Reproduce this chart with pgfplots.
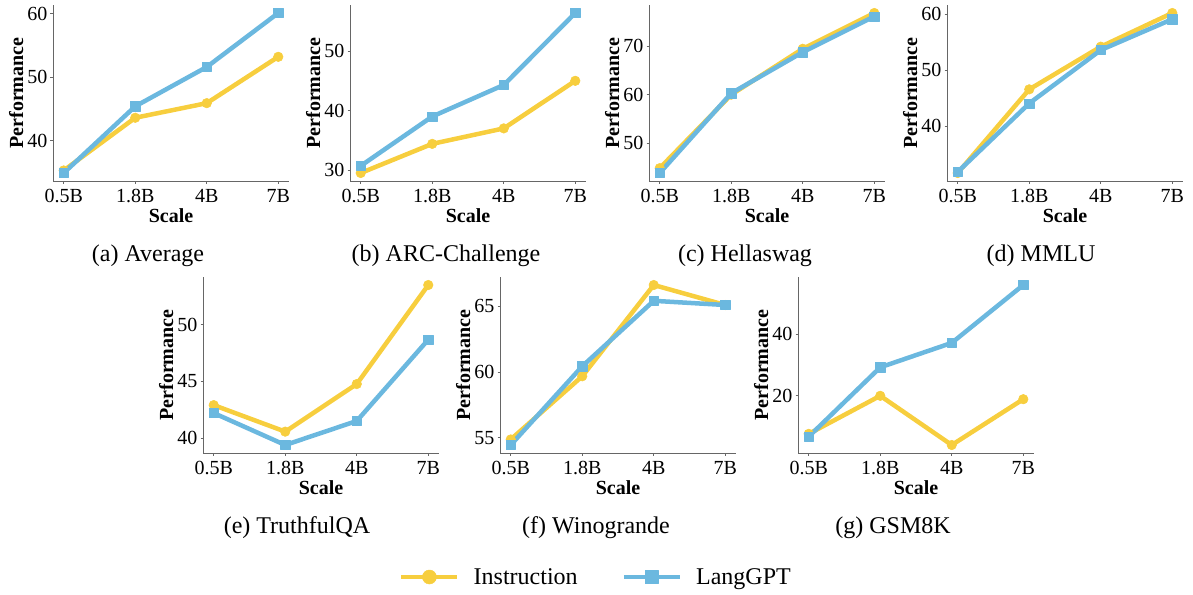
\documentclass[border=0pt]{standalone}
\usepackage{fontspec}
\setmainfont{Liberation Serif}
\usepackage{pgfplots}
\pgfplotsset{compat=1.18}
\definecolor{yel}{HTML}{F7CE3E}
\definecolor{blu}{HTML}{6BB8DF}
\definecolor{axgray}{HTML}{666666}

\pgfplotsset{
  sub/.style={
    scale only axis, width=236pt, height=176pt,
    axis x line*=bottom, axis y line*=left,
    axis line style={draw=axgray, line width=0.8pt, -},
    tick align=outside, major tick length=2.5pt,
    tick style={draw=axgray, line width=0.8pt},
    xmin=-0.15, xmax=3.15, enlarge y limits=0.05,
    xtick={0,1,2,3}, xticklabels={0.5B,1.8B,4B,7B},
    /pgf/number format/assume math mode=true,
    ticklabel style={font=\fontsize{20}{24}\selectfont},
    xticklabel style={anchor=base, yshift=-19pt},
    yticklabel style={anchor=east, inner xsep=0pt, xshift=-3pt},
    every axis x label/.style={at={(axis description cs:0.5,-0.233)}, anchor=base,
      font=\fontsize{20}{24}\selectfont\bfseries},
    every axis y label/.style={at={(axis description cs:-0.127,0.5)}, rotate=90, anchor=base,
      font=\fontsize{20}{24}\selectfont\bfseries},
    xlabel=Scale, ylabel=Performance,
    clip=false,
  },
  ins/.style={color=yel, line width=4.5pt, line join=round, mark=*, mark size=4.8pt,
    mark options={line width=0.5pt}},
  lang/.style={color=blu, line width=4.5pt, line join=round, mark=square*, mark size=4.6pt,
    mark options={line width=0.5pt}},
}

\begin{document}
\begin{tikzpicture}
\useasboundingbox (0pt,0pt) rectangle (1193pt,-594pt);

% (a) Average
\begin{axis}[sub, at={(53pt,-181pt)}, anchor=south west, ytick={40,50,60}]
\addplot[ins] coordinates {(0,35.3) (1,43.6) (2,45.9) (3,53.2)};
\addplot[lang] coordinates {(0,34.9) (1,45.4) (2,51.6) (3,60.1)};
\end{axis}

% (b) ARC-Challenge
\begin{axis}[sub, at={(350pt,-181pt)}, anchor=south west, ytick={30,40,50}]
\addplot[ins] coordinates {(0,29.5) (1,34.4) (2,37.0) (3,45.0)};
\addplot[lang] coordinates {(0,30.7) (1,39.0) (2,44.3) (3,56.4)};
\end{axis}

% (c) Hellaswag
\begin{axis}[sub, at={(649pt,-181pt)}, anchor=south west, ytick={50,60,70}]
\addplot[ins] coordinates {(0,44.8) (1,60.0) (2,69.5) (3,76.9)};
\addplot[lang] coordinates {(0,43.8) (1,60.3) (2,68.8) (3,76.2)};
\end{axis}

% (d) MMLU
\begin{axis}[sub, at={(947pt,-181pt)}, anchor=south west, ytick={40,50,60}]
\addplot[ins] coordinates {(0,31.7) (1,46.6) (2,54.2) (3,60.2)};
\addplot[lang] coordinates {(0,31.9) (1,44.1) (2,53.6) (3,59.1)};
\end{axis}

% (e) TruthfulQA
\begin{axis}[sub, at={(203pt,-453pt)}, anchor=south west, ytick={40,45,50}]
\addplot[ins] coordinates {(0,42.9) (1,40.56) (2,44.76) (3,53.5)};
\addplot[lang] coordinates {(0,42.2) (1,39.38) (2,41.5) (3,48.68)};
\end{axis}

% (f) Winogrande
\begin{axis}[sub, at={(500pt,-453pt)}, anchor=south west, ytick={55,60,65}]
\addplot[ins] coordinates {(0,54.87) (1,59.67) (2,66.6) (3,65.08)};
\addplot[lang] coordinates {(0,54.45) (1,60.43) (2,65.4) (3,65.08)};
\end{axis}

% (g) GSM8K
\begin{axis}[sub, at={(798pt,-453pt)}, anchor=south west, ytick={20,40}]
\addplot[ins] coordinates {(0,7.7) (1,20.0) (2,4.1) (3,18.9)};
\addplot[lang] coordinates {(0,6.8) (1,29.2) (2,37.1) (3,55.8)};
\end{axis}

% legend
\begin{axis}[hide axis, scale only axis, width=10pt, height=10pt,
  at={(596pt,-577pt)}, anchor=center,
  xmin=0, xmax=1, ymin=0, ymax=1,
  legend columns=2,
  legend image code/.code={\draw[mark repeat=2,mark phase=2,#1] plot coordinates {(0pt,0pt) (28pt,0pt) (56pt,0pt)};},
  legend style={at={(0.5,0.5)}, anchor=center, draw=none, fill=none,
    font=\fontsize{24}{29}\selectfont,
    /tikz/every odd column/.append style={column sep=12pt},
    /tikz/every even column/.append style={column sep=42pt}},
]
\addlegendimage{ins, mark size=7pt}
\addlegendentry{Instruction}
\addlegendimage{lang, mark size=6.5pt}
\addlegendentry{LangGPT}
\end{axis}

\begin{scope}[font=\fontsize{24}{29}\selectfont]
\node at (148pt,-256pt) {(a) Average};
\node at (446pt,-256pt) {(b) ARC-Challenge};
\node at (745pt,-256pt) {(c) Hellaswag};
\node at (1041pt,-256pt) {(d) MMLU};
\node at (297pt,-528pt) {(e) TruthfulQA};
\node at (596pt,-528pt) {(f) Winogrande};
\node at (893pt,-528pt) {(g) GSM8K};
\end{scope}
\end{tikzpicture}
\end{document}
